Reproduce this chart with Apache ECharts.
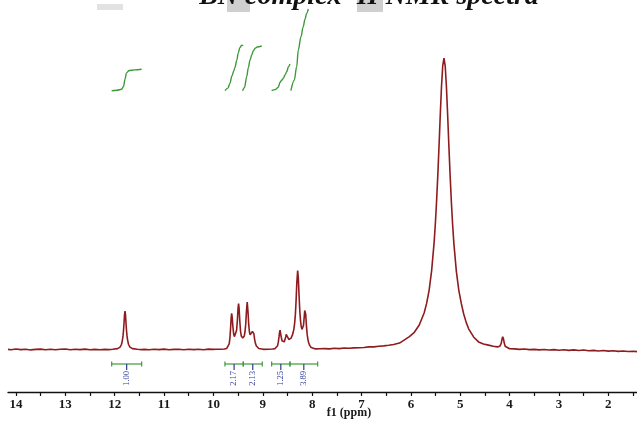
<!DOCTYPE html>
<html>
<head>
<meta charset="utf-8">
<script src="https://cdn.jsdelivr.net/npm/echarts@6/dist/echarts.min.js"></script>
<style>
html,body{margin:0;padding:0;background:#fff;}
#chart{width:637px;height:423px;}
</style>
</head>
<body>
<div id="chart"></div>
<script>
// ---- data ----
const titleText = 'BN complex \u00b9H NMR spectra';
const axisName = 'f1 (ppm)';
const majorTicks = [14, 13, 12, 11, 10, 9, 8, 7, 6, 5, 4, 3, 2];
const minorTicks = [13.5, 12.5, 11.5, 10.5, 9.5, 8.5, 7.5, 6.5, 5.5, 4.5, 3.5, 2.5, 1.5];

// spectrum: [ppm, intensity]
const spectrum = [
[14.16,0.05],[14.1,-0.1],[14.0,0.15],[13.9,-0.05],[13.8,0.1],[13.7,-0.15],[13.6,0.05],[13.5,0.12],[13.4,-0.08],[13.3,0.1],[13.2,-0.12],[13.1,0.06],[13.0,0.14],[12.9,-0.1],[12.8,0.08],[12.7,-0.05],[12.6,0.12],[12.5,-0.1],[12.4,0.05],[12.3,-0.08],[12.2,0.05],
[12.12,-0.05],[12.04,0.1],[11.94,0.3],[11.89,0.8],[11.86,1.8],[11.84,3.5],[11.83,4.75],[11.82,6.6],[11.81,9.1],[11.80,11.9],[11.79,13.2],[11.78,11.9],[11.77,9.1],[11.76,6.6],[11.75,4.75],[11.74,3.5],[11.72,1.8],[11.69,0.8],[11.64,0.3],[11.54,0.1],[11.45,-0.05],
[11.4,0.05],[11.3,-0.1],[11.2,0.1],[11.1,-0.05],[11.0,0.12],[10.9,-0.1],[10.8,0.05],[10.7,0.1],[10.6,-0.12],[10.5,0.06],[10.4,-0.05],[10.3,0.1],[10.2,-0.08],[10.1,0.12],[10.0,0.02],[9.95,0.08],[9.85,0.1],[9.78,0.15],
[9.73,0.35],[9.70,0.9],[9.68,1.9],[9.665,3.9],[9.65,7.8],[9.64,10.9],[9.63,12.4],[9.62,11.2],[9.605,7.8],[9.59,5.4],[9.575,4.4],[9.56,4.3],[9.545,4.9],[9.53,6.6],[9.515,9.8],[9.50,14.3],[9.49,15.8],[9.48,14.3],[9.465,9.7],[9.45,6.3],[9.435,4.6],[9.42,4.0],[9.405,3.9],[9.39,4.1],[9.375,4.6],[9.36,6.0],[9.345,8.7],[9.33,13.2],[9.315,16.3],[9.30,13.2],[9.285,8.7],[9.27,6.0],[9.255,5.0],[9.24,4.9],[9.225,5.2],[9.21,6.2],[9.195,6.7],[9.18,5.4],[9.165,3.5],[9.15,2.2],[9.13,1.2],[9.11,0.7],[9.08,0.35],[9.04,0.15],[8.99,0.05],
[8.95,0.0],[8.88,0.1],[8.80,0.15],[8.75,0.3],[8.72,0.6],[8.70,1.3],[8.685,2.5],[8.67,4.4],[8.66,5.9],[8.65,6.6],[8.64,6.0],[8.625,4.2],[8.61,3.0],[8.595,2.5],[8.58,2.4],[8.565,2.6],[8.55,3.2],[8.535,4.3],[8.525,5.2],[8.515,5.65],[8.505,5.2],[8.49,4.1],[8.475,3.4],[8.46,3.5],[8.445,3.7],[8.43,3.8],[8.415,4.2],[8.40,4.9],[8.385,5.8],[8.37,7.0],[8.355,8.9],[8.34,11.8],[8.325,16.7],[8.31,23.0],[8.293,27.1],[8.28,24.6],[8.265,18.6],[8.25,13.3],[8.235,9.8],[8.22,7.8],[8.205,6.9],[8.19,7.0],[8.175,8.3],[8.16,11.2],[8.15,13.4],[8.142,14.0],[8.13,12.1],[8.115,8.0],[8.10,5.1],[8.085,3.4],[8.07,2.3],[8.05,1.4],[8.02,0.7],[7.98,0.3],[7.93,0.2],[7.85,0.25],
[7.75,0.3],[7.65,0.2],[7.55,0.4],[7.45,0.3],[7.35,0.5],[7.25,0.4],[7.15,0.55],[7.05,0.6],[6.95,0.7],[6.85,0.9],[6.75,0.9],[6.65,1.1],[6.55,1.25],[6.45,1.45],[6.35,1.7],[6.23,2.2],
[6.13,3.3],[6.03,4.4],[5.93,5.9],[5.83,8.4],[5.73,12.6],[5.68,15.9],[5.63,20.4],[5.58,27],[5.53,36.6],[5.505,43],[5.48,50.7],[5.455,59.7],[5.43,69.8],[5.405,80.4],[5.38,90.2],[5.355,97.4],[5.33,100],[5.305,97.4],[5.28,90.2],[5.255,80.4],[5.23,69.8],[5.205,59.7],[5.18,50.7],[5.155,43],[5.13,36.6],[5.08,27],[5.03,20.4],[4.98,15.9],[4.93,12.2],[4.88,9.3],[4.83,7.1],[4.73,4.3],[4.63,2.6],[4.53,1.9],[4.43,1.5],[4.33,1.1],[4.25,0.9],[4.2,1.1],[4.17,2.1],[4.155,3.5],[4.14,4.4],[4.125,3.7],[4.11,2.3],[4.09,1.1],[4.06,0.5],[4.0,0.25],
[3.9,0.2],[3.8,0.05],[3.7,0.15],[3.6,-0.05],[3.5,0.05],[3.4,-0.15],[3.3,0],[3.2,-0.2],[3.1,-0.05],[3.0,-0.25],[2.9,-0.1],[2.8,-0.3],[2.7,-0.15],[2.6,-0.35],[2.5,-0.2],[2.4,-0.45],[2.3,-0.3],[2.2,-0.5],[2.1,-0.35],[2.0,-0.55],[1.9,-0.45],[1.8,-0.65],[1.7,-0.5],[1.6,-0.7],[1.5,-0.6],[1.42,-0.75]
];

// integration regions
const intStart = [12.06, 9.766, 9.395, 8.82, 8.449];
const intEnd = [11.453, 9.395, 9.01, 8.449, 7.888];
const intLabels = ['1.00', '2.17', '2.13', '1.25', '3.89'];

// integral curves: [ppm, cumulative integral]
const intCurve1 = [[12.06,0],[11.95,0.02],[11.86,0.07],[11.82,0.2],[11.79,0.55],[11.76,0.85],[11.705,0.96],[11.6,0.99],[11.453,1.02]];
const intCurve2 = [[9.766,0],[9.705,0.12],[9.665,0.35],[9.625,0.7],[9.585,0.95],[9.565,1.1],[9.525,1.45],[9.498,1.78],[9.464,2.05],[9.43,2.15],[9.395,2.17]];
const intCurve3 = [[9.41,0],[9.37,0.15],[9.325,0.67],[9.292,1.1],[9.258,1.45],[9.224,1.7],[9.19,1.9],[9.155,2.02],[9.115,2.08],[9.02,2.13]];
const intCurve4 = [[8.82,0],[8.75,0.05],[8.686,0.16],[8.65,0.4],[8.614,0.51],[8.58,0.6],[8.55,0.75],[8.515,0.9],[8.48,1.14],[8.449,1.27]];
const intCurve5 = [[8.43,0],[8.362,0.5],[8.313,1.14],[8.28,1.94],[8.226,2.57],[8.18,3.05],[8.145,3.4],[8.11,3.69],[8.078,3.89]];

// ---- chart ----
const RED = '#8e1c1f';
const GREEN = '#3d9a3a';
const BLUE = '#2d3a9a';
const SERIF = '"Liberation Serif", "DejaVu Serif", serif';
const BRACKET_Y = -4.98;

const chart = echarts.init(document.getElementById('chart'), null, {renderer: 'canvas'});

const integralSeries = [intCurve1, intCurve2, intCurve3, intCurve4, intCurve5].map(d => ({
  type: 'line', xAxisIndex: 0, yAxisIndex: 1, data: d, showSymbol: false,
  smooth: 0.35, smoothMonotone: 'x',
  lineStyle: {color: GREEN, width: 1.4}, silent: true
}));

chart.setOption({
  animation: false,
  backgroundColor: '#fff',
  grid: {left: 8, right: 0, top: 0, bottom: 31, containLabel: false},
  xAxis: {
    type: 'value', inverse: true, min: 1.42, max: 14.16, position: 'bottom',
    axisLine: {show: true, onZero: false, lineStyle: {color: '#111', width: 1.3}},
    axisTick: {show: true, customValues: majorTicks.concat(minorTicks), length: 4, lineStyle: {color: '#111', width: 1.2}},
    axisLabel: {show: true, customValues: majorTicks, margin: 6, color: '#1a1a1a',
      fontFamily: SERIF, fontWeight: 'bold', fontSize: 13, formatter: v => String(v)},
    splitLine: {show: false}
  },
  yAxis: [
    {type: 'value', min: -14.6, max: 120, show: false, splitLine: {show: false}},
    {type: 'value', min: -14.35, max: 4.319, show: false, splitLine: {show: false}}
  ],
  series: [
    {
      type: 'line', xAxisIndex: 0, yAxisIndex: 0, data: spectrum, showSymbol: false,
      lineStyle: {color: RED, width: 1.6}, silent: true
    },
    ...integralSeries,
    {
      type: 'custom', xAxisIndex: 0, yAxisIndex: 0, silent: true,
      data: intStart.map((s, i) => [s, intEnd[i]]),
      renderItem: function (params, api) {
        const s = api.coord([api.value(0), BRACKET_Y]);
        const e = api.coord([api.value(1), BRACKET_Y]);
        const y = s[1];
        const mx = (s[0] + e[0]) / 2;
        const ls = {stroke: GREEN, lineWidth: 1.2};
        return {
          type: 'group',
          children: [
            {type: 'line', shape: {x1: s[0], y1: y, x2: e[0], y2: y}, style: ls},
            {type: 'line', shape: {x1: s[0], y1: y - 2.5, x2: s[0], y2: y + 2.5}, style: ls},
            {type: 'line', shape: {x1: e[0], y1: y - 2.5, x2: e[0], y2: y + 2.5}, style: ls},
            {type: 'line', shape: {x1: mx, y1: y, x2: mx, y2: y + 6}, style: {stroke: BLUE, lineWidth: 1.2}},
            {type: 'text', x: mx, y: y + 7, rotation: Math.PI / 2,
              style: {text: intLabels[params.dataIndex], textAlign: 'right', textVerticalAlign: 'middle',
                font: '8.5px ' + SERIF, fill: BLUE}}
          ]
        };
      }
    }
  ],
  graphic: [
    {type: 'rect', shape: {x: 97, y: 4, width: 26, height: 6}, style: {fill: '#e2e2e2'}, z: 0},
    {type: 'rect', shape: {x: 227, y: 0, width: 23, height: 12}, style: {fill: '#cfcfcf'}, z: 0},
    {type: 'rect', shape: {x: 357, y: 0, width: 26, height: 12}, style: {fill: '#cfcfcf'}, z: 0},
    {type: 'text', x: 369, y: 11, z: 10,
      style: {text: titleText, textAlign: 'center', textVerticalAlign: 'bottom',
        font: 'italic bold 28px ' + SERIF, fill: '#111'}},
    {type: 'text', x: 349, y: 413,
      style: {text: axisName, textAlign: 'center', textVerticalAlign: 'middle',
        font: 'bold 12px ' + SERIF, fill: '#1a1a1a'}}
  ]
});
</script>
</body>
</html>
